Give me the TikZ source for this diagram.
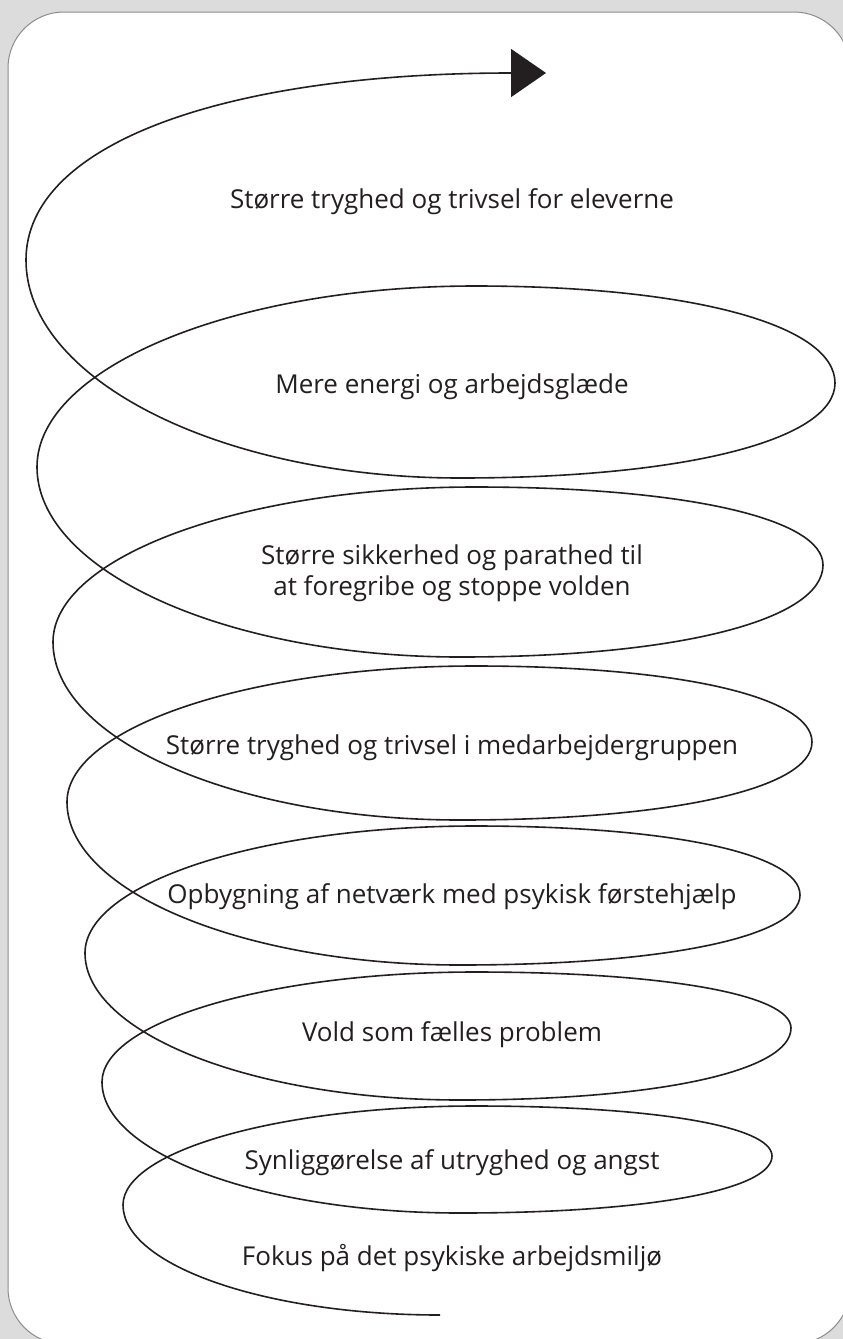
\documentclass[tikz,border=0pt]{standalone}
\usepackage{fontspec}
\setmainfont{Open Sans}
\usetikzlibrary{arrows.meta}
\definecolor{pagegray}{HTML}{DCDCDC}
\definecolor{framegray}{HTML}{8C8C8C}
\definecolor{inkblack}{HTML}{231F20}
\tikzset{
  stagetext/.style={anchor=center,align=center,inner sep=0pt,text=inkblack,font=\fontsize{26}{31}\selectfont},
  spiral/.style={line width=1.6pt,draw=inkblack,-{Triangle[length=35pt,width=48pt]}},
  frame/.style={draw=framegray,fill=white,line width=1pt,rounded corners=56pt}
}

\begin{document}
\begin{tikzpicture}[x=1pt,y=-1pt]
\useasboundingbox (0,0) rectangle (843,1339);
\clip (0,0) rectangle (843,1339);
\fill[pagegray] (0,0) rectangle (843,1339);
\draw[frame] (8,12) rectangle (850,1344);

% stages, from the bottom up
\node[stagetext] (fokus) at (452,1258) {Fokus på det psykiske arbejdsmiljø};
\node[stagetext] (synlig) at (452,1163) {Synliggørelse af utryghed og angst};
\node[stagetext] (vold) at (452,1035) {Vold som fælles problem};
\node[stagetext] (netvaerk) at (452,897) {Opbygning af netværk med psykisk førstehjælp};
\node[stagetext] (medarb) at (452,748) {Større tryghed og trivsel i medarbejdergruppen};
\node[stagetext] (sikker) at (452,573) {Større sikkerhed og parathed til\\ at foregribe og stoppe volden};
\node[stagetext] (energi) at (452,387) {Mere energi og arbejdsglæde};
\node[stagetext] (elever) at (452,202) {Større tryghed og trivsel for eleverne};

% turning points of the spiral: left, top, right, bottom
\coordinate (tail) at (440,1315);
\coordinate (L0) at (123,1205);
\coordinate (T7) at (475,1106); \coordinate (R7) at (772,1156); \coordinate (B7) at (460,1213);
\coordinate (L1) at (102,1082);
\coordinate (T6) at (475,972);  \coordinate (R6) at (791,1028); \coordinate (B6) at (460,1100);
\coordinate (L2) at (85,953);
\coordinate (T5) at (475,826);  \coordinate (R5) at (800,895);  \coordinate (B5) at (460,965);
\coordinate (L3) at (67,802);
\coordinate (T4) at (475,666);  \coordinate (R4) at (812,742);  \coordinate (B4) at (460,820);
\coordinate (L4) at (53,642);
\coordinate (T3) at (475,487);  \coordinate (R3) at (823,565);  \coordinate (B3) at (460,657);
\coordinate (L5) at (37,467);
\coordinate (T2) at (475,286);  \coordinate (R2) at (835,383);  \coordinate (B2) at (460,478);
\coordinate (L6) at (26,260);
\coordinate (tip) at (546,73);

% the spiral, one turn per stage
\draw[spiral] (tail)
  .. controls +(-174,0) and +(0,60.5) .. (L0)
  .. controls +(0,-54.5) and +(-193.6,0) .. (T7)
  .. controls +(178.2,0) and +(0,-30) .. (R7)
  .. controls +(0,34.2) and +(187.2,0) .. (B7)
  .. controls +(-196.9,0) and +(0,72) .. (L1)
  .. controls +(0,-60.5) and +(-205,0) .. (T6)
  .. controls +(189.6,0) and +(0,-33.6) .. (R6)
  .. controls +(0,43.2) and +(198.6,0) .. (B6)
  .. controls +(-206,0) and +(0,80.9) .. (L2)
  .. controls +(0,-69.9) and +(-214.5,0) .. (T5)
  .. controls +(195,0) and +(0,-41.4) .. (R5)
  .. controls +(0,42) and +(204,0) .. (B5)
  .. controls +(-216,0) and +(0,89.7) .. (L3)
  .. controls +(0,-74.8) and +(-224.4,0) .. (T4)
  .. controls +(202.2,0) and +(0,-45.6) .. (R4)
  .. controls +(0,46.8) and +(211.2,0) .. (B4)
  .. controls +(-223.9,0) and +(0,97.9) .. (L4)
  .. controls +(0,-85.3) and +(-232.1,0) .. (T3)
  .. controls +(208.8,0) and +(0,-46.8) .. (R3)
  .. controls +(0,55.2) and +(217.8,0) .. (B3)
  .. controls +(-232.7,0) and +(0,104.5) .. (L5)
  .. controls +(0,-99.6) and +(-240.9,0) .. (T2)
  .. controls +(216,0) and +(0,-58.2) .. (R2)
  .. controls +(0,57) and +(225,0) .. (B2)
  .. controls +(-238.7,0) and +(0,119.9) .. (L6)
  .. controls +(0,-116) and +(-322,0) .. (tip);
\end{tikzpicture}
\end{document}
